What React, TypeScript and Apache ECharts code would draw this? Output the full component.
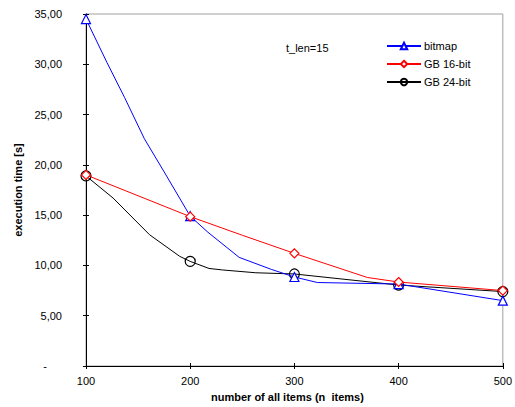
import React, { useEffect, useRef } from "react";
import * as echarts from "echarts";

// measured points (markers)
const itemCounts = [100, 200, 300, 400, 500];
const bitmapTimes = [34.5, 14.9, 8.85, 8.15, 6.5];
const gb16Times = [19.0, 14.85, 11.2, 8.35, 7.5];
const gb24Times = [18.9, 10.4, 9.15, 8.05, 7.4];

// intermediate points of the drawn curves (no markers)
const bitmapCurve: [number, number][] = [
  [120, 30.2], [137, 26.7], [156, 22.6], [175, 19.3], [217, 13.3], [247, 10.8], [278, 9.6], [322, 8.3],
];
const gb16Curve: [number, number][] = [
  [250, 13.0], [370, 8.8],
];
const gb24Curve: [number, number][] = [
  [126, 16.7], [161, 13.05], [190, 10.9], [218, 9.7], [231, 9.55], [263, 9.27],
];

const yTicks = { min: 0, max: 35, interval: 5 };
const xTicks = { min: 100, max: 500, interval: 100 };

function buildData(xs: number[], ys: number[], curve: [number, number][]) {
  const pts: any[] = [];
  xs.forEach((x, i) => pts.push({ value: [x, ys[i]] }));
  curve.forEach((p) => pts.push({ value: p, symbol: "none" }));
  pts.sort((a, b) => a.value[0] - b.value[0]);
  return pts;
}

const FONT = "'Liberation Sans', Arial, sans-serif";

export default function App() {
  const ref = useRef<HTMLDivElement>(null);
  useEffect(() => {
    if (!ref.current) return;
    const chart = echarts.init(ref.current, null, { renderer: "svg" });
    const fmt = (v: number) => (v === 0 ? "{d|-}" : v.toFixed(2).replace(".", ","));
    const labelStyle = { color: "#000", fontSize: 11, fontFamily: FONT };
    chart.setOption({
      animation: false,
      backgroundColor: "#fff",
      grid: {
        left: 86,
        right: 10,
        top: 14,
        bottom: 38,
        show: true,
        borderColor: "#a0a0a0",
        borderWidth: 1,
        containLabel: false,
      },
      xAxis: [
        {
          type: "value",
          ...xTicks,
          position: "bottom",
          axisLine: { show: true, lineStyle: { color: "#000", width: 1 } },
          axisTick: { show: true, length: 3, lineStyle: { color: "#000" } },
          splitLine: { show: false },
          axisLabel: { ...labelStyle, margin: 9 },
          name: "number of all items (n  items)",
          nameLocation: "middle",
          nameGap: 25,
          nameTextStyle: { color: "#000", fontSize: 11, fontWeight: "bold", fontFamily: FONT, padding: [0, 14, 0, 0] },
        },
        {
          type: "value",
          ...xTicks,
          position: "bottom",
          axisLine: { show: false },
          axisTick: { show: true, inside: true, length: 3, lineStyle: { color: "#000" } },
          splitLine: { show: false },
          axisLabel: { show: false },
        },
      ],
      yAxis: [
        {
          type: "value",
          ...yTicks,
          position: "left",
          axisLine: { show: true, lineStyle: { color: "#000", width: 1 } },
          axisTick: { show: true, length: 3, lineStyle: { color: "#000" } },
          splitLine: { show: false },
          axisLabel: {
            ...labelStyle,
            margin: 24,
            formatter: fmt,
            rich: { d: { fontSize: 11, fontFamily: FONT, color: "#000", padding: [0, 15, 0, 0] } },
          },
          name: "execution time [s]",
          nameLocation: "middle",
          nameGap: 49,
          nameRotate: 90,
          nameTextStyle: { color: "#000", fontSize: 11, fontWeight: "bold", fontFamily: FONT },
        },
        {
          type: "value",
          ...yTicks,
          position: "left",
          axisLine: { show: false },
          axisTick: { show: true, inside: true, length: 3, lineStyle: { color: "#000" } },
          splitLine: { show: false },
          axisLabel: { show: false },
        },
      ],
      legend: {
        orient: "vertical",
        left: 381,
        top: 34,
        itemWidth: 34,
        itemHeight: 8,
        itemGap: 4,
        textStyle: { color: "#000", fontSize: 11, fontFamily: FONT, lineHeight: 14, padding: [0, 0, 0, -2] },
        data: ["bitmap", "GB 16-bit", "GB 24-bit"],
      },
      graphic: [
        {
          type: "text",
          left: 286,
          top: 42,
          style: { text: "t_len=15", fontSize: 11, fontFamily: FONT, fill: "#000" },
        },
      ],
      series: [
        {
          name: "bitmap",
          type: "line",
          data: buildData(itemCounts, bitmapTimes, bitmapCurve),
          symbol: "triangle",
          symbolSize: 9,
          showSymbol: true,
          showAllSymbol: true,
          lineStyle: { color: "#0000ff", width: 1 },
          itemStyle: { color: "#fff", borderColor: "#0000ff", borderWidth: 1.2 },
          color: "#0000ff",
          z: 3,
        },
        {
          name: "GB 16-bit",
          type: "line",
          data: buildData(itemCounts, gb16Times, gb16Curve),
          symbol: "diamond",
          symbolSize: 9,
          showSymbol: true,
          showAllSymbol: true,
          lineStyle: { color: "#ff0000", width: 1 },
          itemStyle: { color: "#fff", borderColor: "#ff0000", borderWidth: 1.2 },
          color: "#ff0000",
          z: 4,
        },
        {
          name: "GB 24-bit",
          type: "line",
          data: buildData(itemCounts, gb24Times, gb24Curve),
          symbol: "circle",
          symbolSize: 10,
          showSymbol: true,
          showAllSymbol: true,
          lineStyle: { color: "#000", width: 1 },
          itemStyle: { color: "transparent", borderColor: "#000", borderWidth: 1.2 },
          color: "#000",
          z: 2,
        },
      ],
    });
    return () => chart.dispose();
  }, []);
  return <div ref={ref} style={{ width: 515, height: 407, position: "absolute", left: 0, top: 0 }} />;
}
